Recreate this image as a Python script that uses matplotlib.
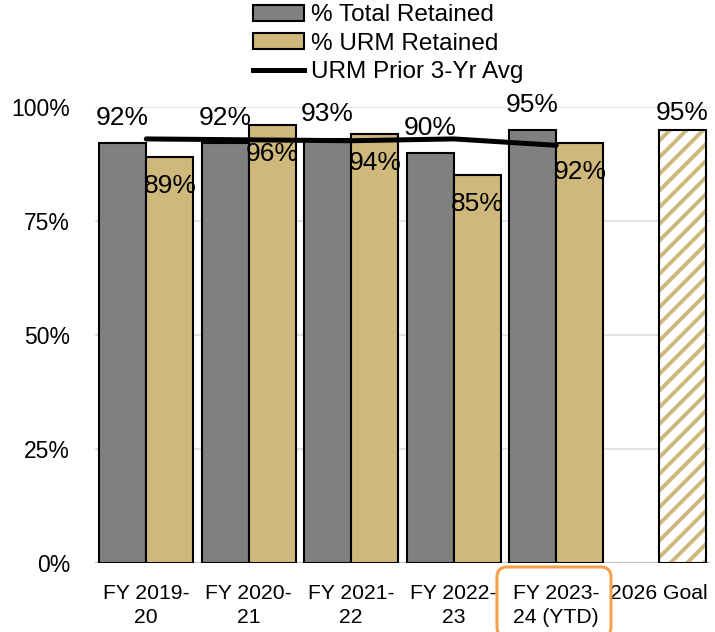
import matplotlib.pyplot as plt
import numpy as np
from matplotlib.patches import Patch, FancyBboxPatch
from matplotlib.lines import Line2D

plt.rcParams['font.family'] = ['Liberation Sans', 'DejaVu Sans']
plt.rcParams['hatch.linewidth'] = 2.8

categories = ['FY 2019-\n20', 'FY 2020-\n21', 'FY 2021-\n22', 'FY 2022-\n23',
              'FY 2023-\n24 (YTD)', '2026 Goal']
total_retained = [92, 92, 93, 90, 95]
urm_retained = [89, 96, 94, 85, 92]
urm_prior_avg = [93.0, 92.8, 92.6, 93.0, 91.6]
goal_value = 95

gray = '#808080'
tan = '#CFB87C'

fig = plt.figure(figsize=(7.15, 6.32), dpi=100)
ax = fig.add_axes([95 / 715, 1 - 563 / 632, 615 / 715, 456 / 632])

x = np.arange(len(total_retained))
w = 0.46

ax.bar(x - w / 2, total_retained, w, color=gray, edgecolor='black', linewidth=1.5, zorder=3)
ax.bar(x + w / 2, urm_retained, w, color=tan, edgecolor='black', linewidth=1.5, zorder=3)

# goal bar: hatched stripes on white, black outline on top
gx = len(categories) - 1 + w / 2
ax.bar(gx, goal_value, w, color='white', edgecolor=tan, hatch='//', linewidth=0, zorder=3)
ax.bar(gx, goal_value, w, color='none', edgecolor='black', linewidth=1.5, zorder=4)

ax.plot(x, urm_prior_avg, color='black', linewidth=3.6, zorder=5, solid_capstyle='round')

# value labels
for xi, v in zip(x, total_retained):
    ax.annotate(f'{v}%', (xi - w / 2, v), xytext=(0, 18), textcoords='offset points',
                ha='center', va='center', fontsize=19, zorder=6, annotation_clip=False)
for xi, v in zip(x, urm_retained):
    ax.annotate(f'{v}%', (xi + w / 2, v), xytext=(0, -20.5), textcoords='offset points',
                ha='center', va='center', fontsize=19, zorder=6)
ax.annotate(f'{goal_value}%', (gx, goal_value), xytext=(0, 12), textcoords='offset points',
            ha='center', va='center', fontsize=19, zorder=6, annotation_clip=False)

ax.set_xlim(-0.5, len(categories) - 0.5)
ax.set_ylim(0, 100)
ax.set_yticks([0, 25, 50, 75, 100])
ax.set_yticklabels([f'{t}%' for t in [0, 25, 50, 75, 100]], fontsize=16.5)
ax.set_xticks(np.arange(len(categories)))
ax.set_xticklabels(categories, fontsize=15.2, linespacing=1.35)
ax.tick_params(axis='both', length=0)
ax.tick_params(axis='y', pad=18)
ax.tick_params(axis='x', pad=15)
ax.grid(axis='y', color='#dedede', linewidth=1.2, zorder=0)
ax.axhline(0, color='#c4c4c4', linewidth=1.6, zorder=2)
for s in ax.spines.values():
    s.set_visible(False)

# orange highlight box around the current year label
box = FancyBboxPatch((4.97, -0.05), 1.14, 0.70, boxstyle='round,pad=0,rounding_size=0.1',
                     transform=fig.dpi_scale_trans, facecolor='none', edgecolor='#F5A04A',
                     linewidth=2.2, clip_on=False)
fig.patches.append(box)

handles = [Patch(facecolor=gray, edgecolor='black', linewidth=1.5),
           Patch(facecolor=tan, edgecolor='black', linewidth=1.5),
           Line2D([0], [0], color='black', linewidth=3.6)]
labels = ['% Total Retained', '% URM Retained', 'URM Prior 3-Yr Avg']
fig.legend(handles, labels, loc='upper left', bbox_to_anchor=(236 / 715, 1.02),
           frameon=False, fontsize=17.5, handlelength=2.1, handleheight=0.6,
           handletextpad=0.3, labelspacing=0.26, borderpad=0.2)

fig.savefig('out.png', dpi=100)
